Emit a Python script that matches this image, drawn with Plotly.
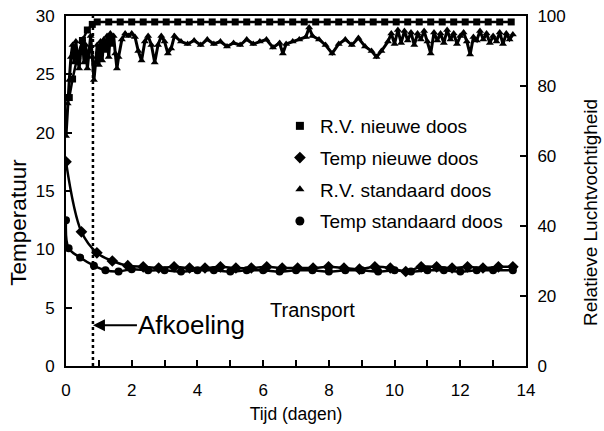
import plotly.graph_objects as go

FONT = "Liberation Sans, Arial, sans-serif"

# ---------------- data ----------------
# R.V. nieuwe doos (%), right axis
rv_new_t = [0, 0.1, 0.2, 0.35, 0.5, 0.65, 0.8, 0.95, 1.3, 1.65, 2.0, 2.35, 2.7, 3.05,
            3.4, 3.75, 4.1, 4.45, 4.8, 5.15, 5.5, 5.85, 6.2, 6.55, 6.9, 7.25, 7.6,
            7.95, 8.3, 8.65, 9.0, 9.35, 9.7, 10.05, 10.4, 10.75, 11.1, 11.45, 11.8,
            12.15, 12.5, 12.85, 13.2, 13.55]
rv_new = [76.7, 76.7, 82.0, 88.5, 93.0, 96.0, 97.6, 98.3, 98.3, 98.3, 98.3, 98.3,
          98.3, 98.3, 98.3, 98.3, 98.3, 98.3, 98.3, 98.3, 98.3, 98.3, 98.3, 98.3,
          98.3, 98.3, 98.3, 98.3, 98.3, 98.3, 98.3, 98.3, 98.3, 98.3, 98.3, 98.3,
          98.3, 98.3, 98.3, 98.3, 98.3, 98.3, 98.3, 98.3]

# R.V. standaard doos (%), right axis
rv_std_t = [0.00, 0.05, 0.10, 0.15, 0.20, 0.25, 0.30, 0.35, 0.40, 0.45, 0.50, 0.55,
            0.60, 0.65, 0.70, 0.75, 0.80, 0.85, 0.90, 0.95, 1.00, 1.05, 1.10, 1.15,
            1.20, 1.25, 1.30, 1.35, 1.40, 1.45, 1.50, 1.55, 1.60, 1.70, 1.80, 1.90,
            2.00, 2.10, 2.20, 2.30, 2.40, 2.50, 2.60, 2.70, 2.80, 2.90, 3.00, 3.10,
            3.20, 3.30, 3.50, 3.70, 3.90, 4.10, 4.30, 4.50, 4.70, 4.90, 5.10, 5.30,
            5.50, 5.70, 5.90, 6.10, 6.30, 6.50, 6.60, 6.70, 6.90, 7.10, 7.30, 7.40,
            7.50, 7.70, 7.90, 8.10, 8.30, 8.50, 8.70, 8.90, 9.10, 9.30, 9.45, 9.60,
            9.80, 9.90, 10.00, 10.10, 10.20, 10.30, 10.40, 10.50, 10.60, 10.70,
            10.80, 10.90, 11.00, 11.10, 11.20, 11.30, 11.40, 11.50, 11.60, 11.70,
            11.80, 11.90, 12.00, 12.10, 12.20, 12.30, 12.40, 12.50, 12.60, 12.70,
            12.80, 12.90, 13.00, 13.10, 13.20, 13.30, 13.40, 13.50, 13.60]
rv_std = [65.7, 75.0, 81.7, 88.3, 91.7, 86.7, 92.7, 88.3, 85.0, 90.0, 93.3, 86.7,
          91.7, 85.0, 90.0, 94.3, 88.3, 81.7, 86.7, 91.7, 86.0, 92.7, 87.3, 93.3,
          90.0, 94.3, 88.3, 95.0, 91.7, 94.3, 89.3, 85.0, 88.3, 93.3, 95.0, 94.3,
          95.0, 94.0, 90.0, 87.3, 92.7, 94.3, 91.7, 86.7, 91.7, 94.3, 92.7, 89.3,
          90.7, 94.3, 92.7, 92.0, 93.0, 91.7, 93.3, 92.0, 92.7, 91.3, 92.3, 91.7,
          93.3, 92.0, 92.7, 93.3, 91.0, 92.3, 89.3, 92.0, 92.7, 93.3, 94.0, 96.7,
          94.3, 93.3, 91.7, 89.3, 92.0, 93.3, 91.7, 93.7, 91.3, 90.0, 88.3, 90.0,
          92.7, 95.0, 92.0, 96.0, 92.3, 95.7, 93.0, 95.3, 91.7, 95.0,
          93.3, 95.7, 92.7, 89.3, 95.3, 93.0, 95.0, 92.3, 96.0, 93.3,
          95.0, 92.0, 94.3, 95.3, 92.7, 89.0, 94.0, 93.0, 95.7, 93.3,
          95.0, 92.3, 94.3, 92.7, 95.3, 92.0, 95.0, 93.3, 94.7]

# Temp nieuwe doos (deg C), left axis
temp_new_t = [0, 0.47, 0.94, 1.41, 1.88, 2.35, 2.82, 3.29, 3.76, 4.23, 4.70, 5.17,
              5.64, 6.11, 6.58, 7.05, 7.52, 7.99, 8.46, 8.93, 9.40, 9.87, 10.34,
              10.81, 11.28, 11.75, 12.22, 12.69, 13.16, 13.60]
temp_new = [17.5, 11.5, 9.7, 9.0, 8.6, 8.5, 8.4, 8.5, 8.4, 8.4, 8.5, 8.4, 8.4, 8.5,
            8.4, 8.4, 8.4, 8.5, 8.4, 8.3, 8.5, 8.4, 8.1, 8.5, 8.5, 8.4, 8.5, 8.4,
            8.5, 8.5]

# Temp standaard doos (deg C), left axis
temp_std_t = [0, 0.08, 0.43, 0.85, 1.2, 1.6, 2.0, 2.5, 3.0, 3.5, 4.0, 4.5, 5.0, 5.5,
              6.0, 6.5, 7.0, 7.5, 8.0, 8.5, 9.0, 9.5, 10.0, 10.5, 11.0, 11.5, 12.0,
              12.5, 13.0, 13.6]
temp_std = [12.5, 10.1, 9.3, 8.6, 8.2, 8.1, 8.3, 8.2, 8.2, 8.1, 8.2, 8.2, 8.1, 8.2,
            8.2, 8.1, 8.2, 8.2, 8.1, 8.2, 8.2, 8.1, 8.2, 8.1, 8.2, 8.2, 8.1, 8.2,
            8.2, 8.2]

afkoeling_t = 0.82

legend_names = ["R.V. nieuwe doos", "Temp nieuwe doos", "R.V. standaard doos",
                "Temp standaard doos"]
legend_symbols = ["square", "diamond", "triangle-up", "circle"]
legend_sizes = [8, 9, 8, 9]

x_ticks = [0, 2, 4, 6, 8, 10, 12, 14]
y_ticks = [0, 5, 10, 15, 20, 25, 30]
y2_ticks = [0, 20, 40, 60, 80, 100]

# ---------------- figure ----------------
fig = go.Figure()

fig.add_trace(go.Scatter(x=rv_new_t, y=rv_new, yaxis="y2", mode="lines+markers",
                         line=dict(color="black", width=2.5),
                         marker=dict(symbol="square", size=7, color="black"),
                         showlegend=False))
fig.add_trace(go.Scatter(x=rv_std_t, y=rv_std, yaxis="y2", mode="lines+markers",
                         line=dict(color="black", width=3),
                         marker=dict(symbol="triangle-up", size=7, color="black"),
                         showlegend=False))
fig.add_trace(go.Scatter(x=temp_new_t, y=temp_new, mode="lines+markers",
                         line=dict(color="black", width=2.5, shape="spline"),
                         marker=dict(symbol="diamond", size=9, color="black"),
                         showlegend=False))
fig.add_trace(go.Scatter(x=temp_std_t, y=temp_std, mode="lines+markers",
                         line=dict(color="black", width=2.5, shape="spline"),
                         marker=dict(symbol="circle", size=8, color="black"),
                         showlegend=False))

for i, (nm, sym, sz) in enumerate(zip(legend_names, legend_symbols, legend_sizes)):
    fig.add_trace(go.Scatter(x=[None], y=[None], mode="markers", name=nm,
                             legendgroup=f"g{i}",
                             marker=dict(symbol=sym, size=sz, color="black")))

fig.add_shape(type="line", x0=afkoeling_t, x1=afkoeling_t, y0=0, y1=1,
              xref="x", yref="paper",
              line=dict(color="black", width=2.5, dash="dot"))

fig.add_annotation(x=afkoeling_t, y=3.5, xref="x", yref="y", text="Afkoeling",
                   showarrow=True, ax=99, ay=0, arrowhead=2, arrowsize=1.2,
                   arrowwidth=2, arrowcolor="black",
                   font=dict(family=FONT, size=26, color="black"))
fig.add_annotation(x=7.5, y=4.8, xref="x", yref="y", text="Transport",
                   showarrow=False, font=dict(family=FONT, size=20, color="black"))

# y-axis titles (placed as rotated text, like the original)
fig.add_annotation(x=-0.104, y=0.41, xref="paper", yref="paper", text="Temperatuur",
                   textangle=-90, showarrow=False, xanchor="center", yanchor="middle",
                   font=dict(family=FONT, size=22.5, color="black"))
fig.add_annotation(x=1.139, y=0.44, xref="paper", yref="paper",
                   text="Relatieve Luchtvochtigheid", textangle=-90, showarrow=False,
                   xanchor="center", yanchor="middle",
                   font=dict(family=FONT, size=19, color="black"))

axis_common = dict(showline=True, linecolor="black", linewidth=2, ticks="inside",
                   tickcolor="black", tickwidth=1.5, ticklen=6, showgrid=False,
                   zeroline=False, automargin=False,
                   tickfont=dict(family=FONT, size=17, color="black"))

fig.update_layout(
    width=604, height=431,
    margin=dict(l=66, r=78, t=16, b=65),
    paper_bgcolor="white", plot_bgcolor="white",
    font=dict(family=FONT, color="black"),
    xaxis=dict(range=[0, 14], tickvals=x_ticks, mirror=True,
               minor=dict(dtick=1, ticks="inside", ticklen=6, tickcolor="black",
                          tickwidth=1.5),
               title=dict(text="Tijd (dagen)", font=dict(family=FONT, size=17.5),
                          standoff=8),
               ticklabelstandoff=8, **axis_common),
    yaxis=dict(range=[0, 30], tickvals=y_ticks, mirror=True,
               ticklabelstandoff=6, **axis_common),
    yaxis2=dict(range=[0, 100], tickvals=y2_ticks, overlaying="y", side="right",
                ticklabelstandoff=6, **axis_common),
    legend=dict(x=0.465, y=0.74, xanchor="left", yanchor="top",
                bgcolor="rgba(0,0,0,0)", font=dict(family=FONT, size=19),
                tracegroupgap=4, itemwidth=30),
)

# remove the browser's default page margin so the figure fills the window
fig.write_html("out.html", config={"displayModeBar": False},
               post_script="document.body.style.margin='0';")
